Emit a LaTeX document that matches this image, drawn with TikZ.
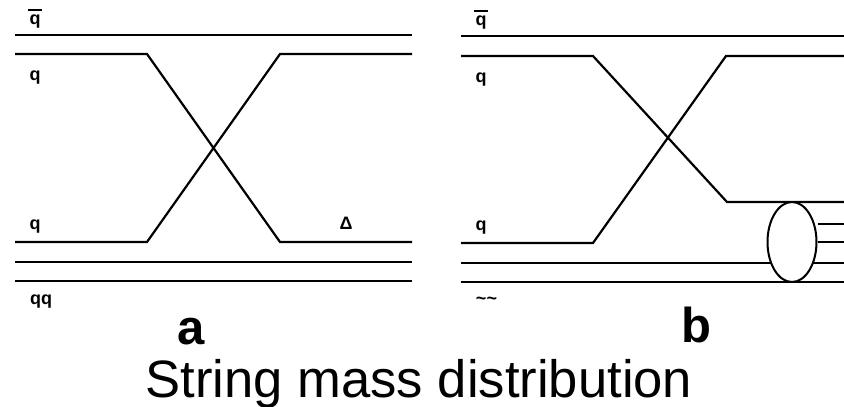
\documentclass[tikz,border=0pt]{standalone}
\usepackage{fontspec}
\setmainfont{Liberation Sans}
\usepackage{tikz}
\usetikzlibrary{shapes,positioning}
\newcommand{\qbar}{\makebox[0pt][l]{\hspace{-1.5pt}\raisebox{13.5pt}{\rule{14pt}{1.3pt}}}q}

\begin{document}
\begin{tikzpicture}[x=1pt, y=-1pt, string/.style={line width=2.2pt, line join=miter},
  lbl/.style={font=\fontsize{18}{18}\selectfont\bfseries, inner sep=0pt, anchor=base},
  panel/.style={font=\fontsize{49}{49}\selectfont\bfseries, inner sep=0pt, anchor=base}]
  \useasboundingbox (0,0) rectangle (844,407);

  % panel a
  \coordinate (a1l) at (15,35);    \coordinate (a1r) at (412,35);
  \coordinate (a2l) at (15,54);    \coordinate (a2r) at (412,54);
  \coordinate (a3l) at (15,242);   \coordinate (a3r) at (412,242);
  \coordinate (a4l) at (15,262);   \coordinate (a4r) at (412,262);
  \coordinate (a5l) at (15,281);   \coordinate (a5r) at (412,281);
  \coordinate (atl) at (147,54);   \coordinate (atr) at (280,54);
  \coordinate (abl) at (147,242);  \coordinate (abr) at (280,242);

  \draw[string] (a1l) -- (a1r);
  \draw[string] (a2l) -- (atl) -- (abr) -- (a3r);
  \draw[string] (a3l) -- (abl) -- (atr) -- (a2r);
  \draw[string] (a4l) -- (a4r);
  \draw[string] (a5l) -- (a5r);

  \node[lbl] (aqbar) at (35,24) {\qbar};
  \node[lbl] (aq1) at (35,80) {q};
  \node[lbl] (aq2) at (35,229) {q};
  \node[lbl] (adelta) at (346,229) {Δ};
  \node[lbl] (aqq) at (41,304.5) {qq};
  \node[panel] (alabel) at (191,344) {a};

  % panel b
  \coordinate (b1l) at (461,36);   \coordinate (b1r) at (844,36);
  \coordinate (b2l) at (461,56);   \coordinate (b2r) at (844,56);
  \coordinate (b3l) at (461,243);  \coordinate (b3r) at (844,202);
  \coordinate (b4l) at (461,263);  \coordinate (b4r) at (844,263);
  \coordinate (b5l) at (461,282);  \coordinate (b5r) at (844,282);
  \coordinate (btl) at (593,56);   \coordinate (btr) at (726,56);
  \coordinate (bbl) at (593,243);  \coordinate (bbr) at (727,202);
  \coordinate (b6r) at (844,224);  \coordinate (b7r) at (844,242);

  \draw[string] (b1l) -- (b1r);
  \draw[string] (b2l) -- (btl) -- (bbr) -- (b3r);
  \draw[string] (b3l) -- (bbl) -- (btr) -- (b2r);
  \draw[string] (b4l) -- (b4r);
  \draw[string] (b5l) -- (b5r);
  \node[draw, fill=white, ellipse, line width=2pt, minimum width=49pt, minimum height=80pt, inner sep=0pt] (blob) at (792,242) {};
  \draw[string] (blob.east |- b6r) -- (b6r);
  \draw[string] (blob.east) -- (b7r);

  \node[lbl] (bqbar) at (481,25) {\qbar};
  \node[lbl] (bq1) at (481,82) {q};
  \node[lbl] (bq2) at (481,230.5) {q};
  \node[lbl] (bqq) at (486.5,304) {\textasciitilde\textasciitilde};
  \node[panel] (blabel) at (696,342) {b};

  \node[inner sep=0pt, anchor=base, font=\fontsize{52.6}{52.6}\selectfont] (title) at (419,397) {String mass distribution};
\end{tikzpicture}
\end{document}
